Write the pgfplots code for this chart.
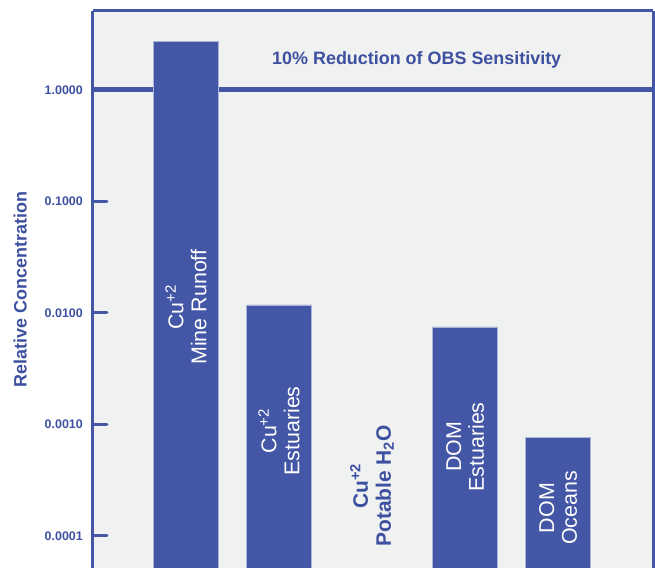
\documentclass[border=0pt]{standalone}
\usepackage{pgfplots}
\pgfplotsset{compat=1.18}
\usepackage{fontspec}
\setmainfont{Liberation Sans}
\definecolor{barblue}{RGB}{68,86,166}
\definecolor{txtblue}{RGB}{62,80,160}
\definecolor{bggray}{RGB}{240,241,241}
\begin{document}
\begin{tikzpicture}
  \path[use as bounding box] (-93bp,0) rectangle (562bp,568bp);
  \begin{axis}[
      scale only axis,
      width=560bp, height=557bp,
      ymode=log, log origin=infty,
      xmin=0, xmax=6.02,
      ymin=5.16e-5, ymax=5.11,
      axis x line*=top, axis y line*=box,
      xtick=\empty,
      ytick={0.0001,0.001,0.01,0.1,1},
      yticklabels={0.0001,0.0010,0.0100,0.1000,1.0000},
      minor y tick style={draw=none}, ytick pos=left,
      tick align=inside,
      major tick length=14bp,
      major tick style={line width=3bp, line cap=round, color=barblue},
      axis line style={line width=3bp, color=barblue},
      axis background/.style={fill=bggray},
      yticklabel style={font=\bfseries\fontsize{12.5}{14}\selectfont, text=txtblue, anchor=east, inner sep=0pt, xshift=-10bp},
      ylabel={Relative Concentration},
      ylabel style={at={(axis description cs:-0.13,0.5)}, anchor=center, font=\bfseries\fontsize{18}{20}\selectfont, text=txtblue},
      clip mode=individual,
    ]
    % 10% reduction threshold
    \addplot[barblue, line width=5bp, sharp plot, no marks] coordinates {(0,1) (6.02,1)};
    \addplot[ybar, bar width=0.7, fill=barblue, draw=white!55!barblue, line width=0.8bp]
      coordinates {(1,2.7) (2,0.0118) (4,0.0075) (5,0.00076)};

    \node[font=\bfseries\fontsize{18}{20}\selectfont, text=txtblue] at (axis cs:3.48,1.86)
      {10\% Reduction of OBS Sensitivity};
    \begin{scope}[every node/.style={rotate=90, align=center, font=\fontsize{21.5}{23}\selectfont}]
      \node[text=white] at (axis cs:1,0.0113) {Cu\textsuperscript{+2}\\Mine Runoff};
      \node[text=white] at (axis cs:2,8.75e-4) {Cu\textsuperscript{+2}\\Estuaries};
      \node[text=txtblue, font=\bfseries\fontsize{21}{23}\selectfont] at (axis cs:3,2.81e-4) {Cu\textsuperscript{+2}\\Potable H\textsubscript{2}O};
      \node[text=white] at (axis cs:4,6.28e-4) {DOM\\Estuaries};
      \node[text=white] at (axis cs:5,1.78e-4) {DOM\\Oceans};
    \end{scope}
  \end{axis}
\end{tikzpicture}
\end{document}
